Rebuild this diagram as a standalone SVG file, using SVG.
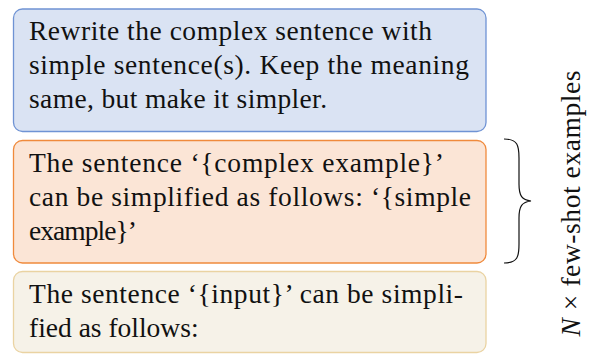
<svg xmlns="http://www.w3.org/2000/svg" width="594" height="354" viewBox="0 0 594 354">
<style>
.t{font-family:"Liberation Serif","Times New Roman",serif;font-size:27.5px;fill:#111}
.box{stroke-width:1.3}
</style>
<rect width="594" height="354" fill="#fff"/>
<g id="instruction">
<rect class="box" x="13.5" y="9" width="472.5" height="122.5" rx="9" fill="#dae3f3" stroke="#6f93d4"/>
<text class="t" x="29" y="40" textLength="403" lengthAdjust="spacing">Rewrite the complex sentence with</text>
<text class="t" x="29" y="74" textLength="440" lengthAdjust="spacing">simple sentence(s).  Keep the meaning</text>
<text class="t" x="29" y="108" textLength="298" lengthAdjust="spacing">same, but make it simpler.</text>
</g>
<g id="example">
<rect class="box" x="13.5" y="140.5" width="472.5" height="122.5" rx="9" fill="#fbe5d6" stroke="#f08a3c"/>
<text class="t" x="29" y="172" textLength="415" lengthAdjust="spacing">The sentence ‘{complex example}’</text>
<text class="t" x="29" y="206" textLength="442" lengthAdjust="spacing">can be simplified as follows:  ‘{simple</text>
<text class="t" x="29" y="240" textLength="108" lengthAdjust="spacing">example}’</text>
</g>
<g id="query">
<rect class="box" x="13.5" y="271.5" width="472.5" height="81" rx="9" fill="#f6f2e8" stroke="#ead3a2"/>
<text class="t" x="29" y="303" textLength="434" lengthAdjust="spacing">The sentence ‘{input}’ can be simpli-</text>
<text class="t" x="29" y="337">fied as follows:</text>
</g>
<g id="connectors">
<path d="M504,139 C518,139 519,146 519,158 L519,184 C519,196 522,200 531,201 C522,202 519,206 519,218 L519,244 C519,256 518,263 504,263" fill="none" stroke="#111" stroke-width="1.2"/>
</g>
<g id="label">
<text class="t" transform="translate(580,203.5) rotate(-90)" text-anchor="middle" textLength="266" lengthAdjust="spacing"><tspan font-style="italic">N</tspan> × few-shot examples</text>
</g>
</svg>
